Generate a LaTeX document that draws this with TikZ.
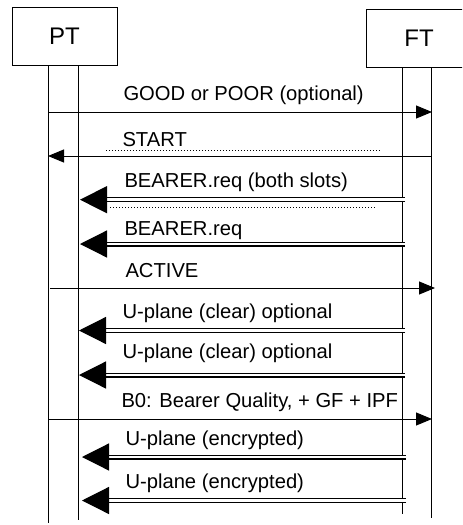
\documentclass[tikz,border=0pt]{standalone}
\usepackage{fontspec}
\setmainfont{Liberation Sans}
\usetikzlibrary{arrows.meta}

\begin{document}
\begin{tikzpicture}[x=0.5pt,y=-0.5pt,line width=0.5pt,
  ent/.style={draw,minimum width=52.5pt,minimum height=29pt,inner sep=0pt,font=\fontsize{12}{14}\selectfont},
  msg/.style={-{Triangle[length=8pt,width=6.5pt]}},
  dmsg/.style={double,double distance=1.3pt,line width=0.6pt,-{Triangle[length=13.5pt,width=13.5pt]}},
  lbl/.style={anchor=base west,inner sep=0pt,font=\fontsize{10.1}{12}\selectfont},
  dots/.style={dash pattern=on 0.5pt off 1pt}]
\clip (0,0) rectangle (462,525);
\draw (64.5,36) node[ent](pt) {PT};
\draw (419,38) node[ent](ft) {FT};
% lifelines
\coordinate (pto) at (48,65);
\coordinate (pti) at (78,65);
\coordinate (fti) at (402,67);
\coordinate (fto) at (431,67);
\coordinate (ptoe) at (48,523);
\coordinate (ptie) at (78,520);
\coordinate (ftie) at (402,514);
\coordinate (ftoe) at (431,518);
\draw (pto) -- (ptoe);
\draw (pti) -- (ptie);
\draw (fti) -- (ftie);
\draw (fto) -- (ftoe);
% message levels
\coordinate (m1) at (0,112);
\coordinate (m2) at (0,156);
\coordinate (m3) at (0,199.7);
\coordinate (m4) at (0,244);
\coordinate (m5) at (0,288);
\coordinate (m6) at (0,330.5);
\coordinate (m7) at (0,375);
\coordinate (m8) at (0,419);
\coordinate (m9) at (0,457);
\coordinate (m10) at (0,500.5);
% messages
\draw[msg] (pto |- m1) -- ([xshift=0.5pt]fto |- m1);
\node[lbl] (l1) at (123,100) {GOOD or POOR (optional)};
\draw[msg] (fto |- m2) -- (pto |- m2);
\draw[dots] (106,150) -- (380,150);
\node[lbl] (l2) at (122,146) {START};
\draw[dmsg] ([xshift=1.5pt]fti |- m3) -- ([xshift=1pt]pti |- m3);
\draw[dots] (110,207) -- (375,207);
\node[lbl] (l3) at (124,187) {BEARER.req (both slots)};
\draw[dmsg] ([xshift=1.5pt]fti |- m4) -- ([xshift=1pt]pti |- m4);
\node[lbl] (l4) at (124,235) {BEARER.req};
\draw[msg] ([xshift=1pt]pto |- m5) -- ([xshift=2pt]fto |- m5);
\node[lbl] (l5) at (125,277) {ACTIVE};
\draw[dmsg] ([xshift=1.5pt]fti |- m6) -- ([xshift=0.5pt]pti |- m6);
\node[lbl] (l6) at (122,318) {U-plane (clear) optional};
\draw[dmsg] ([xshift=1.5pt]fti |- m7) -- ([xshift=0.5pt]pti |- m7);
\node[lbl] (l7) at (122,358) {U-plane (clear) optional};
\draw[msg] (pto |- m8) -- ([xshift=0.5pt]fto |- m8);
\node[lbl] (l8) at (121,407) {B0: Bearer Quality, + GF + IPF};
\draw[dmsg] ([xshift=2pt]fti |- m9) -- ([xshift=2pt]pti |- m9);
\node[lbl] (l9) at (125,445) {U-plane (encrypted)};
\draw[dmsg] ([xshift=2pt]fti |- m10) -- ([xshift=2pt]pti |- m10);
\node[lbl] (l10) at (125,488) {U-plane (encrypted)};
\end{tikzpicture}
\end{document}
